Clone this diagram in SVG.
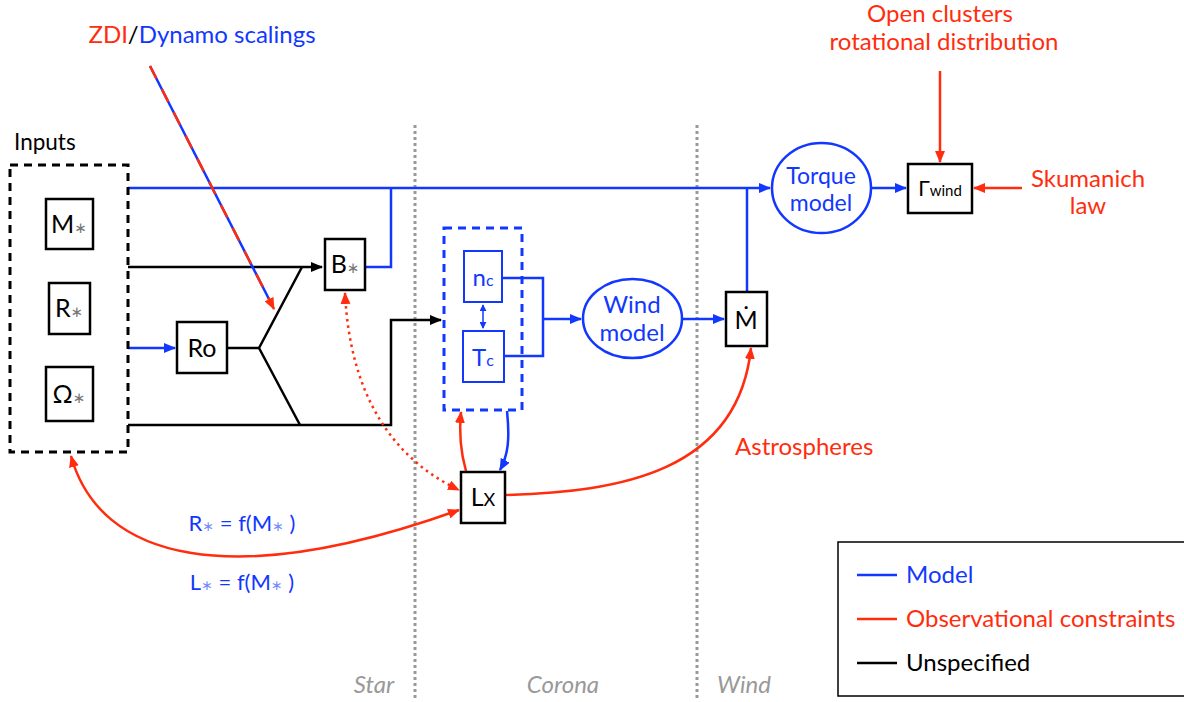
<svg xmlns="http://www.w3.org/2000/svg" width="1184" height="702" viewBox="0 0 1184 702">
<style>
text{font-family:Lato,"DejaVu Sans",sans-serif;}
.lbl{font-size:25px;fill:#000;text-anchor:middle;}
.blue{fill:#1238ff;}
.red{fill:#ff2d0e;}
.box{fill:#fff;stroke:#000;stroke-width:2.5;}
.bbox{fill:#fff;stroke:#1238ff;stroke-width:2;}
.lb{stroke:#1238ff;stroke-width:2.5;fill:none;}
.lr{stroke:#ff2d0e;stroke-width:2.5;fill:none;}
.lk{stroke:#000;stroke-width:2.5;fill:none;}
.sep{stroke:#999;stroke-width:3;stroke-dasharray:3 3;}
.star{font-size:15px;fill:#777;}
.region{font-size:24px;fill:#999;font-style:italic;text-anchor:middle;}
.t24{font-size:24px;}
</style>
<defs>
<marker id="ab" viewBox="0 0 12 10" refX="11" refY="5" markerWidth="12" markerHeight="10" markerUnits="userSpaceOnUse" orient="auto-start-reverse"><path d="M0,0 L12,5 L0,10 z" fill="#1238ff"/></marker>
<marker id="ar" viewBox="0 0 12 10" refX="11" refY="5" markerWidth="12" markerHeight="10" markerUnits="userSpaceOnUse" orient="auto-start-reverse"><path d="M0,0 L12,5 L0,10 z" fill="#ff2d0e"/></marker>
<marker id="ak" viewBox="0 0 12 10" refX="11" refY="5" markerWidth="12" markerHeight="10" markerUnits="userSpaceOnUse" orient="auto-start-reverse"><path d="M0,0 L12,5 L0,10 z" fill="#000"/></marker>
<marker id="abs" viewBox="0 0 8 8" refX="7" refY="4" markerWidth="7" markerHeight="7" markerUnits="userSpaceOnUse" orient="auto-start-reverse"><path d="M0,0 L8,4 L0,8 z" fill="#1238ff"/></marker>
</defs>

<g id="separators">
<line class="sep" x1="415" y1="125" x2="415" y2="700"/>
<line class="sep" x1="697" y1="125" x2="697" y2="700"/>
</g>

<g id="labels">
<text x="202" y="43" class="t24" text-anchor="middle"><tspan class="red">ZDI</tspan><tspan fill="#000">/</tspan><tspan class="blue">Dynamo scalings</tspan></text>
<text x="14" y="150" style="font-size:22.5px" fill="#000">Inputs</text>
<text x="940" y="22" class="red t24" text-anchor="middle">Open clusters</text>
<text x="944" y="50" class="red t24" text-anchor="middle">rotational distribution</text>
<text x="1088" y="187" class="red t24" text-anchor="middle">Skumanich</text>
<text x="1088" y="214" class="red t24" text-anchor="middle">law</text>
<text x="735" y="455" class="red t24">Astrospheres</text>
<text x="242" y="531" class="blue" style="font-size:22px" text-anchor="middle">R<tspan style="font-size:14px" fill-opacity="0.6">∗</tspan> = f(M<tspan style="font-size:14px" fill-opacity="0.6">∗</tspan> )</text>
<text x="242" y="590" class="blue" style="font-size:22px" text-anchor="middle">L<tspan style="font-size:14px" fill-opacity="0.6">∗</tspan> = f(M<tspan style="font-size:14px" fill-opacity="0.6">∗</tspan> )</text>
<text x="374" y="693" class="region">Star</text>
<text x="563" y="693" class="region">Corona</text>
<text x="744" y="693" class="region">Wind</text>
</g>

<g id="connectors">
<path class="lb" d="M128,188 H770" marker-end="url(#ab)"/>
<path class="lb" d="M365,267 H391 V188"/>
<path class="lb" d="M747,292 V188"/>
<path class="lk" d="M128,267 H322" marker-end="url(#ak)"/>
<path class="lb" d="M128,348 H175" marker-end="url(#ab)"/>
<path class="lk" d="M227,348 H259 L302,267 M259,348 L300,425"/>
<path class="lk" d="M128,425 H391 V320 H441" marker-end="url(#ak)"/>
<path d="M150,66 L272,305" stroke="#1238ff" stroke-width="2.5" fill="none"/>
<path d="M150,66 L274,309" stroke="#ff2d0e" stroke-width="2.5" stroke-dasharray="14 12" fill="none" marker-end="url(#ar)"/>
<path class="lb" d="M502,278 H543 V356 H504 M543,319 H581" marker-end="url(#ab)"/>
<path d="M483,305 V328" stroke="#1238ff" stroke-width="1.5" marker-start="url(#abs)" marker-end="url(#abs)"/>
<path class="lb" d="M682,319 H724" marker-end="url(#ab)"/>
<path class="lb" d="M871,188 H906" marker-end="url(#ab)"/>
<path class="lr" d="M940,71 V162" marker-end="url(#ar)"/>
<path class="lr" d="M1022,188 H974" marker-end="url(#ar)"/>
<path class="lr" d="M466,471 C460,450 459,432 461,412" marker-end="url(#ar)"/>
<path class="lb" d="M507,411 C510,440 508,455 500,470" marker-end="url(#ab)"/>
<path d="M345,293 C350,395 392,458 459,490" stroke="#ff2d0e" stroke-width="2.5" stroke-dasharray="2.5 4" fill="none" marker-start="url(#ar)" marker-end="url(#ar)"/>
<path class="lr" d="M71,456 C100,560 230,592 459,510" marker-start="url(#ar)" marker-end="url(#ar)"/>
<path class="lr" d="M505,495 C620,492 738,472 751,348" marker-end="url(#ar)"/>
</g>

<g id="inputs">
<rect x="10" y="165" width="118" height="287" fill="none" stroke="#000" stroke-width="3" stroke-dasharray="8 6"/>
</g>
<g id="node-mstar">
<rect class="box" x="46" y="199" width="47" height="50"/>
<text class="lbl" x="69" y="233">M<tspan class="star">∗</tspan></text>
</g>
<g id="node-rstar">
<rect class="box" x="49" y="283" width="41" height="51"/>
<text class="lbl" x="69" y="317">R<tspan class="star">∗</tspan></text>
</g>
<g id="node-omega">
<rect class="box" x="46" y="367" width="47" height="54"/>
<text class="lbl" x="69" y="403">Ω<tspan class="star">∗</tspan></text>
</g>
<g id="node-ro">
<rect class="box" x="177" y="322" width="50" height="51"/>
<text class="lbl" x="202" y="357">Ro</text>
</g>
<g id="node-bstar">
<rect class="box" x="325" y="239" width="40" height="51"/>
<text class="lbl" x="345" y="273">B<tspan class="star">∗</tspan></text>
</g>
<g id="node-corona">
<rect x="444" y="228" width="78" height="182" fill="none" stroke="#1238ff" stroke-width="3" stroke-dasharray="8 6"/>
</g>
<g id="node-nc">
<rect class="bbox" x="464" y="251" width="38" height="51"/>
<text class="lbl blue" x="483" y="286" style="font-size:24px">n<tspan style="font-size:16px">c</tspan></text>
</g>
<g id="node-tc">
<rect class="bbox" x="463" y="331" width="41" height="51"/>
<text class="lbl blue" x="483" y="366" style="font-size:24px">T<tspan style="font-size:16px">c</tspan></text>
</g>
<g id="node-wind">
<ellipse cx="632.5" cy="318.5" rx="49.5" ry="39.5" fill="#fff" stroke="#1238ff" stroke-width="2.5"/>
<text class="lbl blue" x="632" y="313" style="font-size:24px">Wind</text>
<text class="lbl blue" x="632" y="341" style="font-size:24px">model</text>
</g>
<g id="node-mdot">
<rect class="box" x="726" y="292" width="41" height="54"/>
<text class="lbl" x="746" y="329">Ṁ</text>
</g>
<g id="node-torque">
<ellipse cx="821.5" cy="188" rx="49.5" ry="45" fill="#fff" stroke="#1238ff" stroke-width="2.5"/>
<text class="lbl blue" x="821" y="184" style="font-size:23px">Torque</text>
<text class="lbl blue" x="821" y="211" style="font-size:23px">model</text>
</g>
<g id="node-gamma">
<rect class="box" x="908" y="164" width="64" height="49"/>
<text class="lbl" x="940" y="196" style="font-size:21px">Γ<tspan style="font-size:15px">wind</tspan></text>
</g>
<g id="node-lx">
<rect class="box" x="461" y="472" width="44" height="51"/>
<text class="lbl" x="483" y="506">L<tspan style="font-size:18px">X</tspan></text>
</g>

<g id="legend">
<rect x="838" y="542" width="350" height="154" fill="#fff" stroke="#000" stroke-width="1.5"/>
<line x1="857" y1="575" x2="897" y2="575" stroke="#1238ff" stroke-width="2.5"/>
<text x="906" y="583" class="blue t24">Model</text>
<line x1="857" y1="619" x2="897" y2="619" stroke="#ff2d0e" stroke-width="2.5"/>
<text x="906" y="627" class="red t24">Observational constraints</text>
<line x1="857" y1="663" x2="897" y2="663" stroke="#000" stroke-width="2.5"/>
<text x="906" y="671" fill="#000" class="t24">Unspecified</text>
</g>
</svg>
